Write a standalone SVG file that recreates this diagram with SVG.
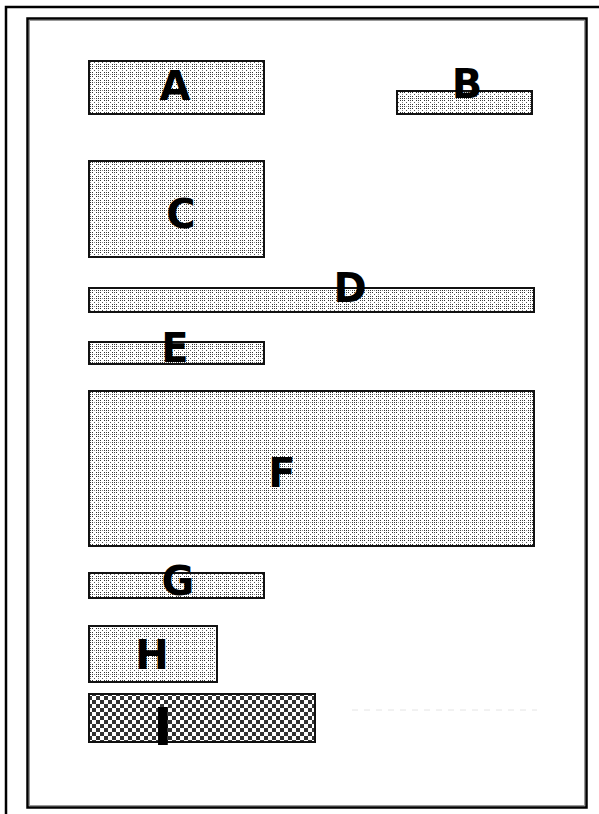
<svg xmlns="http://www.w3.org/2000/svg" width="599" height="814" viewBox="0 0 599 814">
<defs>
<pattern id="dots" width="8" height="8" patternUnits="userSpaceOnUse">
<rect width="8" height="8" fill="#ffffff"/>
<rect x="0" y="0" width="1" height="1" fill="#333"/>
<rect x="2" y="0" width="1" height="1" fill="#444"/>
<rect x="4" y="0" width="1" height="1" fill="#333"/>
<rect x="0" y="2" width="1" height="1" fill="#444"/>
<rect x="2" y="2" width="1" height="1" fill="#333"/>
<rect x="4" y="2" width="1" height="1" fill="#444"/>
<rect x="0" y="4" width="1" height="1" fill="#333"/>
<rect x="2" y="4" width="1" height="1" fill="#444"/>
<rect x="4" y="4" width="1" height="1" fill="#333"/>
<rect x="6" y="6" width="1" height="1" fill="#555"/>
<rect x="6" y="2" width="1" height="1" fill="#888"/>
<rect x="2" y="6" width="1" height="1" fill="#888"/>
</pattern>
<pattern id="checker" width="8" height="8" patternUnits="userSpaceOnUse">
<rect width="8" height="8" fill="#ffffff"/>
<rect x="0" y="0" width="4" height="4" fill="#333"/>
<rect x="4" y="4" width="4" height="4" fill="#333"/>
</pattern>
</defs>
<style>
.box{fill:url(#dots);stroke:#111;stroke-width:2}
.chk{fill:url(#checker);stroke:#111;stroke-width:2}
.lbl{font-family:"DejaVu Sans",sans-serif;font-weight:bold;font-size:40px;fill:#000;text-anchor:middle}
</style>
<rect width="599" height="814" fill="#ffffff"/>
<g id="frame" fill="none">
<polyline points="6,814 6,7 599,7" stroke="#000" stroke-width="2.5"/>
<rect x="27.5" y="18.5" width="559" height="789" stroke="#000" stroke-width="2.5"/>
<rect x="29.5" y="20.5" width="555" height="785" stroke="#999" stroke-width="1"/>
</g>
<g id="A"><rect class="box" x="89" y="61" width="175" height="53"/><text class="lbl" x="175" y="100">A</text></g>
<g id="B"><rect class="box" x="397" y="91" width="135" height="23"/><text class="lbl" x="467" y="98">B</text></g>
<g id="C"><rect class="box" x="89" y="161" width="175" height="96"/><text class="lbl" x="181" y="228">C</text></g>
<g id="D"><rect class="box" x="89" y="288" width="445" height="24"/><text class="lbl" x="350" y="302">D</text></g>
<g id="E"><rect class="box" x="89" y="342" width="175" height="22"/><text class="lbl" x="175" y="362">E</text></g>
<g id="F"><rect class="box" x="89" y="391" width="445" height="155"/><text class="lbl" x="282" y="487">F</text></g>
<g id="G"><rect class="box" x="89" y="573" width="175" height="25"/><text class="lbl" x="178" y="595">G</text></g>
<g id="H"><rect class="box" x="89" y="626" width="128" height="56"/><text class="lbl" x="152" y="669">H</text></g>
<g id="I"><rect class="chk" x="89" y="694" width="226" height="48"/><text class="lbl" x="163" y="745" style="font-size:52px">I</text></g>
<g id="connectors"><line x1="352" y1="710" x2="537" y2="710" stroke="#e4e4e4" stroke-width="1" stroke-dasharray="6,6"/></g>
</svg>
